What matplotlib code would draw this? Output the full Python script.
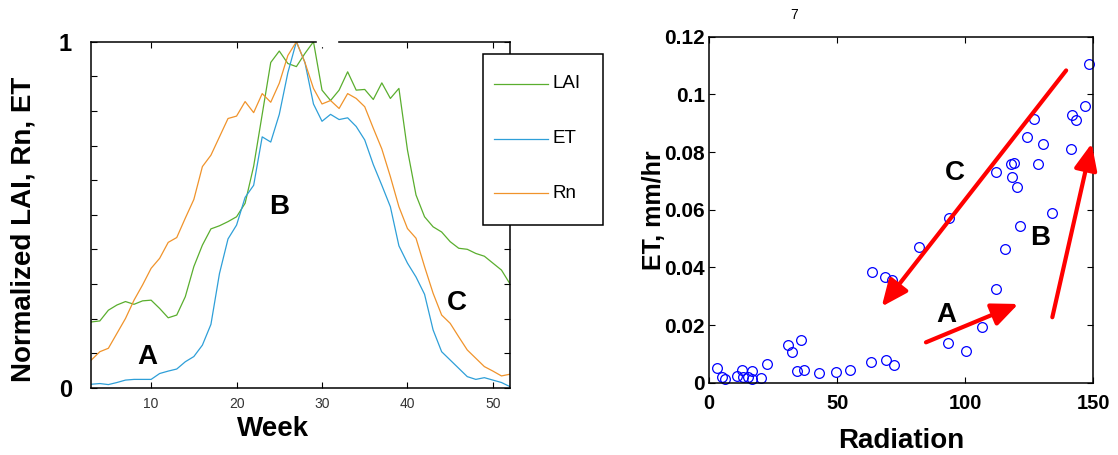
import matplotlib
matplotlib.use("Agg")
import matplotlib.pyplot as plt
from matplotlib.patches import Rectangle
from matplotlib.lines import Line2D
import numpy as np

plt.rcParams['font.family'] = ['Liberation Sans', 'DejaVu Sans']

# weekly normalized series (left panel)
weeks = list(range(3, 53))
lai = [0.19, 0.193, 0.224, 0.239, 0.249, 0.241, 0.251, 0.253, 0.229, 0.202,
       0.21, 0.263, 0.35, 0.412, 0.459, 0.468, 0.48, 0.494, 0.533, 0.64,
       0.79, 0.94, 0.973, 0.937, 0.928, 0.966, 1.0, 0.86, 0.83, 0.86,
       0.913, 0.86, 0.862, 0.833, 0.881, 0.836, 0.865, 0.687, 0.557, 0.494,
       0.465, 0.45, 0.422, 0.403, 0.4, 0.388, 0.38, 0.36, 0.34, 0.30]
et = [0.01, 0.012, 0.009, 0.015, 0.022, 0.024, 0.024, 0.024, 0.041, 0.048,
      0.054, 0.075, 0.09, 0.123, 0.183, 0.33, 0.43, 0.47, 0.55, 0.585,
      0.725, 0.71, 0.79, 0.91, 1.0, 0.94, 0.82, 0.77, 0.79, 0.775,
      0.78, 0.755, 0.716, 0.645, 0.585, 0.523, 0.41, 0.36, 0.32, 0.27,
      0.167, 0.104, 0.08, 0.056, 0.032, 0.024, 0.029, 0.022, 0.015, 0.003]
rn = [0.08, 0.104, 0.114, 0.157, 0.2, 0.253, 0.297, 0.345, 0.374, 0.42,
      0.434, 0.49, 0.544, 0.639, 0.672, 0.725, 0.778, 0.785, 0.827, 0.795,
      0.85, 0.825, 0.88, 0.96, 1.0, 0.94, 0.865, 0.82, 0.83, 0.807,
      0.85, 0.836, 0.812, 0.75, 0.69, 0.61, 0.523, 0.46, 0.432, 0.35,
      0.273, 0.21, 0.186, 0.147, 0.109, 0.085, 0.061, 0.048, 0.034, 0.039]
series_names = ["LAI", "ET", "Rn"]
series_colors = ["#5aae2e", "#2e9fd8", "#f0932b"]

# scatter of ET vs radiation (right panel)
radiation = [3.1, 4.8, 6.2, 10.7, 12.7, 13.3, 15.2, 16.6, 16.8, 20.1, 22.7,
             30.9, 32.2, 35.7, 34.2, 37.0, 43.0, 49.5, 55.0, 63.2, 69.1, 72.2,
             63.5, 68.7, 71.3, 82.1, 93.4, 100.4, 106.5, 112.0, 115.6,
             93.8, 121.5, 134.1, 112.0, 118.2, 120.4, 117.8, 119.1, 124.1,
             130.3, 128.4, 126.9, 141.3, 141.9, 143.2, 146.9, 148.4]
et_hr = [0.0052, 0.0021, 0.0013, 0.0023, 0.0044, 0.0019, 0.0021, 0.0041, 0.0013,
         0.0015, 0.0066, 0.0131, 0.0108, 0.0147, 0.0041, 0.0043, 0.0033, 0.0038,
         0.0043, 0.0072, 0.0079, 0.006, 0.0383, 0.0368, 0.0356, 0.047, 0.0139,
         0.0111, 0.0194, 0.0324, 0.0463, 0.0572, 0.0545, 0.0588, 0.073, 0.0712,
         0.0678, 0.0758, 0.0761, 0.0853, 0.0827, 0.0758, 0.0914, 0.081, 0.0929,
         0.0911, 0.0961, 0.1104]

# arrows: (start radiation, start ET, end radiation, end ET)
arrows = {
    "C": (139.5, 0.1083, 67.4, 0.0264),
    "A": (84.7, 0.014, 120.8, 0.0273),
    "B": (134.1, 0.0227, 149.5, 0.083),
}

W, H = 1118, 455
fig = plt.figure(figsize=(W / 100, H / 100), dpi=100)

# ---------------- left panel ----------------
ax1 = fig.add_axes([91.3 / W, (H - 387.7) / H, 418.7 / W, 346 / H])
for vals, name, col in zip([lai, et, rn], series_names, series_colors):
    ax1.plot(weeks, vals, color=col, lw=0.9, label=name)
ax1.set_xlim(3, 52)
ax1.set_ylim(0, 1)
ax1.set_xticks([10, 20, 30, 40, 50])
ax1.set_xticklabels(["10", "20", "30", "40", "50"], fontsize=10, color="#333333")
yt = np.round(np.arange(0, 1.01, 0.1), 1)
ax1.set_yticks(yt)
ax1.set_yticklabels(["0"] + [""] * 9 + ["1"], fontsize=17, fontweight="bold")
ax1.tick_params(direction="in", length=4, top=True, right=True, width=0.8)
ax1.tick_params(axis="x", pad=7)
ax1.tick_params(axis="y", pad=14)
for s in ax1.spines.values():
    s.set_linewidth(1.1)
ax1.set_xlabel("Week", fontsize=20, fontweight="bold", va="center")
ax1.xaxis.set_label_coords(0.434, -0.118)
ax1.set_ylabel("Normalized LAI, Rn, ET", fontsize=20, fontweight="bold", va="center")
ax1.yaxis.set_label_coords(-0.163, 0.457)
ax1.text(9.6, 0.09, "A", fontsize=20, fontweight="bold", ha="center", va="center")
ax1.text(25.0, 0.523, "B", fontsize=20, fontweight="bold", ha="center", va="center")
ax1.text(45.8, 0.244, "C", fontsize=20, fontweight="bold", ha="center", va="center")

# legend box drawn by hand (matches the original's odd padding)
fig.add_artist(Rectangle((483 / W, 1 - 225 / H), 120 / W, 171 / H,
                         transform=fig.transFigure, facecolor="white",
                         edgecolor="black", lw=1.1, zorder=5))
for i, (name, col) in enumerate(zip(series_names, series_colors)):
    yy = 1 - (84 + 54.5 * i) / H
    fig.add_artist(Line2D([494 / W, 548 / W], [yy, yy], color=col, lw=0.9,
                          transform=fig.transFigure, zorder=6))
    fig.text(553 / W, yy, name, fontsize=13.5, va="center", ha="left", zorder=6)

# gap in the top spine
fig.add_artist(Rectangle((317 / W, 1 - 46 / H), 20 / W, 8 / H,
                         transform=fig.transFigure, color="white", zorder=10))

# ---------------- right panel ----------------
ax2 = fig.add_axes([709.3 / W, (H - 382.7) / H, 383.7 / W, 346 / H])
ax2.plot(radiation, et_hr, "o", mfc="none", mec="blue", ms=7, mew=0.9,
         clip_on=False)
ax2.set_xlim(0, 150)
ax2.set_ylim(0, 0.12)
ax2.set_xticks([0, 50, 100, 150])
ax2.set_xticklabels(["0", "50", "100", "150"], fontsize=14.5, fontweight="bold")
ax2.set_yticks([0, 0.02, 0.04, 0.06, 0.08, 0.1, 0.12])
ax2.set_yticklabels(["0", "0.02", "0.04", "0.06", "0.08", "0.1", "0.12"],
                    fontsize=15, fontweight="bold")
ax2.tick_params(direction="in", length=4, top=True, right=True, width=0.8)
ax2.tick_params(axis="x", pad=8)
ax2.tick_params(axis="y", pad=3)
for s in ax2.spines.values():
    s.set_linewidth(1.1)
ax2.set_xlabel("Radiation", fontsize=20, fontweight="bold", va="center")
ax2.xaxis.set_label_coords(0.5, -0.168)
ax2.set_ylabel("ET, mm/hr", fontsize=18, fontweight="bold", va="center")
ax2.yaxis.set_label_coords(-0.144, 0.5)

for name, (x0, y0, x1, y1) in arrows.items():
    ax2.annotate("", xy=(x1, y1), xytext=(x0, y0), annotation_clip=False,
                 arrowprops=dict(arrowstyle="-|>,head_length=0.8,head_width=0.35",
                                 color="red", lw=3, mutation_scale=20,
                                 shrinkA=0, shrinkB=0))

ax2.text(96.0, 0.0726, "C", fontsize=20, fontweight="bold", ha="center", va="center")
ax2.text(129.3, 0.0501, "B", fontsize=20, fontweight="bold", ha="center", va="center")
ax2.text(92.8, 0.0235, "A", fontsize=20, fontweight="bold", ha="center", va="center")
ax2.text(0.22, 1.063, "7", fontsize=10, transform=ax2.transAxes,
         ha="center", va="center")

fig.savefig("out.png", dpi=100)
